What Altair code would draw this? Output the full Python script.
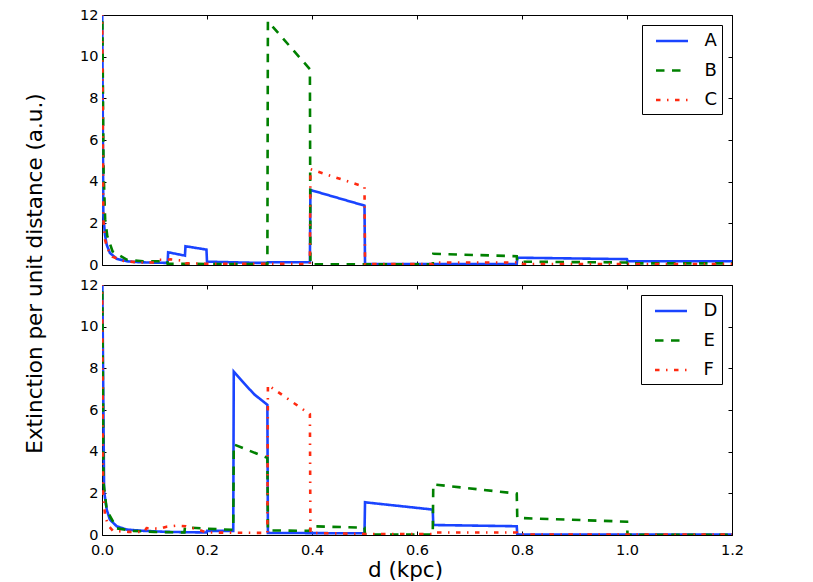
import altair as alt
import pandas as pd

# ---- data: distance d (kpc) and extinction per unit distance
A_d = [0, 0.0025, 0.0057, 0.009, 0.015, 0.028, 0.047, 0.072, 0.125, 0.126, 0.158, 0.159, 0.199, 0.2, 0.25, 0.3, 0.315, 0.316, 0.396, 0.397, 0.5, 0.501, 0.79, 0.791, 1.0, 1.001, 1.2]
A_v = [14, 2.4, 1.45, 0.97, 0.58, 0.3, 0.18, 0.13, 0.1, 0.61, 0.45, 0.9, 0.74, 0.16, 0.13, 0.1, 0.1, 0.13, 0.13, 3.6, 2.85, 0.05, 0.05, 0.35, 0.28, 0.18, 0.18]

B_d = [0, 0.003, 0.006, 0.01, 0.02, 0.047, 0.078, 0.11, 0.124, 0.125, 0.2, 0.315, 0.316, 0.396, 0.397, 0.63, 0.631, 0.79, 0.791, 1.0, 1.001, 1.2]
B_v = [14, 4.5, 2.2, 1.4, 0.66, 0.26, 0.18, 0.18, 0.18, 0.06, 0.05, 0.05, 11.7, 9.4, 0.03, 0.03, 0.54, 0.42, 0.16, 0.12, 0.08, 0.08]

C_d = [0, 0.0025, 0.006, 0.01, 0.02, 0.04, 0.07, 0.1, 0.11, 0.125, 0.13, 0.158, 0.16, 0.2, 0.396, 0.397, 0.5, 0.501, 0.63, 0.631, 0.79, 0.791, 1.2]
C_v = [14, 2.2, 1.2, 0.8, 0.4, 0.2, 0.12, 0.12, 0.25, 0.25, 0.27, 0.2, 0.08, 0.06, 0.05, 4.6, 3.75, 0.04, 0.04, 0.12, 0.12, 0.04, 0.04]

D_d = [0, 0.004, 0.009, 0.015, 0.028, 0.047, 0.079, 0.123, 0.199, 0.2, 0.25, 0.251, 0.27, 0.29, 0.315, 0.316, 0.5, 0.501, 0.63, 0.631, 0.79, 0.791, 1.2]
D_v = [14, 2.1, 1.22, 0.74, 0.42, 0.26, 0.2, 0.15, 0.12, 0.2, 0.2, 7.84, 7.3, 6.75, 6.25, 0.1, 0.08, 1.57, 1.22, 0.48, 0.42, 0.02, 0.02]

E_d = [0, 0.003, 0.009, 0.028, 0.06, 0.1, 0.157, 0.158, 0.2, 0.25, 0.251, 0.315, 0.316, 0.396, 0.397, 0.5, 0.501, 0.63, 0.631, 0.79, 0.791, 1.0, 1.001, 1.2]
E_v = [14, 2.5, 1.2, 0.32, 0.2, 0.15, 0.12, 0.37, 0.3, 0.25, 4.35, 3.7, 0.22, 0.2, 0.42, 0.35, 0.02, 0.02, 2.43, 1.99, 0.82, 0.64, 0.01, 0.01]

F_d = [0, 0.002, 0.006, 0.012, 0.021, 0.05, 0.08, 0.085, 0.11, 0.123, 0.142, 0.16, 0.18, 0.2, 0.315, 0.316, 0.396, 0.397, 0.5, 0.63, 0.631, 0.79, 0.791, 1.2]
F_v = [14, 2.0, 0.9, 0.45, 0.2, 0.15, 0.15, 0.33, 0.3, 0.4, 0.45, 0.42, 0.28, 0.12, 0.1, 7.2, 5.8, 0.1, 0.05, 0.05, 0.12, 0.12, 0.02, 0.02]

X_TICKS = [0, 0.2, 0.4, 0.6, 0.8, 1.0, 1.2]
Y_TICKS = [0, 2, 4, 6, 8, 10, 12]
TOP_NAMES = ["A", "B", "C"]
BOT_NAMES = ["D", "E", "F"]

COLORS = ["#1a44ff", "#008000", "#ff2a10"]
DASHES = [[1, 0], [8.5, 7.5], [4.5, 6.5, 1.5, 6.5]]
FONT = "DejaVu Sans"


def frame(series):
    rows = []
    for name, (ds, vs) in series.items():
        for i, (d, v) in enumerate(zip(ds, vs)):
            rows.append({"series": name, "d": d, "v": v, "i": i})
    return pd.DataFrame(rows)


top_df = frame({"A": (A_d, A_v), "B": (B_d, B_v), "C": (C_d, C_v)})
bot_df = frame({"D": (D_d, D_v), "E": (E_d, E_v), "F": (F_d, F_v)})

common = dict(domain=False, ticks=True, tickColor="black", tickSize=4, tickWidth=1,
              offset=-4, grid=False, labelFlush=False)


def panel(df, names, bottom):
    xs = alt.Scale(domain=[0, 1.2], nice=False, zero=False)
    ys = alt.Scale(domain=[0, 12], nice=False, zero=False)
    if bottom:
        x_axis = alt.Axis(values=X_TICKS, format=".1f", labelPadding=8, title="d (kpc)",
                          titleX=303, titlePadding=3, orient="bottom", **common)
        y_axis = alt.Axis(values=Y_TICKS, labelPadding=4, title=None, orient="left", **common)
    else:
        x_axis = alt.Axis(values=X_TICKS, labels=False, title=None, orient="bottom", **common)
        y_axis = alt.Axis(values=Y_TICKS, labelPadding=4, orient="left",
                          title="Extinction per unit distance (a.u.)",
                          titleX=-71, titleY=258, titleAngle=270, titleAlign="center",
                          titleBaseline="middle", **common)
    legend = alt.Legend(orient="top-right", offset=10, padding=4.5, title=None,
                        strokeColor="black", fillColor="white", cornerRadius=0,
                        symbolType="M-1.6,0H1.6", symbolSize=400, symbolStrokeWidth=2.6,
                        symbolOffset=14, labelFontSize=18, labelOffset=21, rowPadding=8.5,
                        labelFont=FONT, labelColor="black")
    lines = alt.Chart(df).mark_line(strokeWidth=2.6, clip=True).encode(
        x=alt.X("d:Q", scale=xs, axis=x_axis),
        y=alt.Y("v:Q", scale=ys, axis=y_axis),
        color=alt.Color("series:N", scale=alt.Scale(domain=names, range=COLORS), legend=legend),
        strokeDash=alt.StrokeDash("series:N", scale=alt.Scale(domain=names, range=DASHES), legend=legend),
        order=alt.Order("i:Q"),
    )
    mirror = alt.Chart(df).mark_line(opacity=0, clip=True).encode(
        x=alt.X("d:Q", scale=xs, axis=alt.Axis(orient="top", labels=False, title=None,
                                                values=X_TICKS, **common)),
        y=alt.Y("v:Q", scale=ys, axis=alt.Axis(orient="right", labels=False, title=None,
                                                values=Y_TICKS, **common)),
        detail="series:N",
        order=alt.Order("i:Q"),
    )
    return alt.layer(lines, mirror).resolve_axis(x="independent", y="independent").properties(
        width=630, height=250)


chart = alt.vconcat(
    panel(top_df, TOP_NAMES, False),
    panel(bot_df, BOT_NAMES, True),
    spacing=20, bounds="flush",
).resolve_scale(
    color="independent", strokeDash="independent"
).resolve_legend(
    color="independent", strokeDash="independent"
).properties(
    padding={"left": 15, "top": -2, "right": 5, "bottom": 5},
    background="white",
).configure_axis(
    labelFont=FONT, labelFontSize=14.5, labelColor="black",
    titleFont=FONT, titleFontSize=21.5, titleFontWeight="normal", titleColor="black",
).configure_view(
    stroke="black", strokeWidth=1,
)

chart.save("out.html", embed_options={"renderer": "svg", "actions": False})
